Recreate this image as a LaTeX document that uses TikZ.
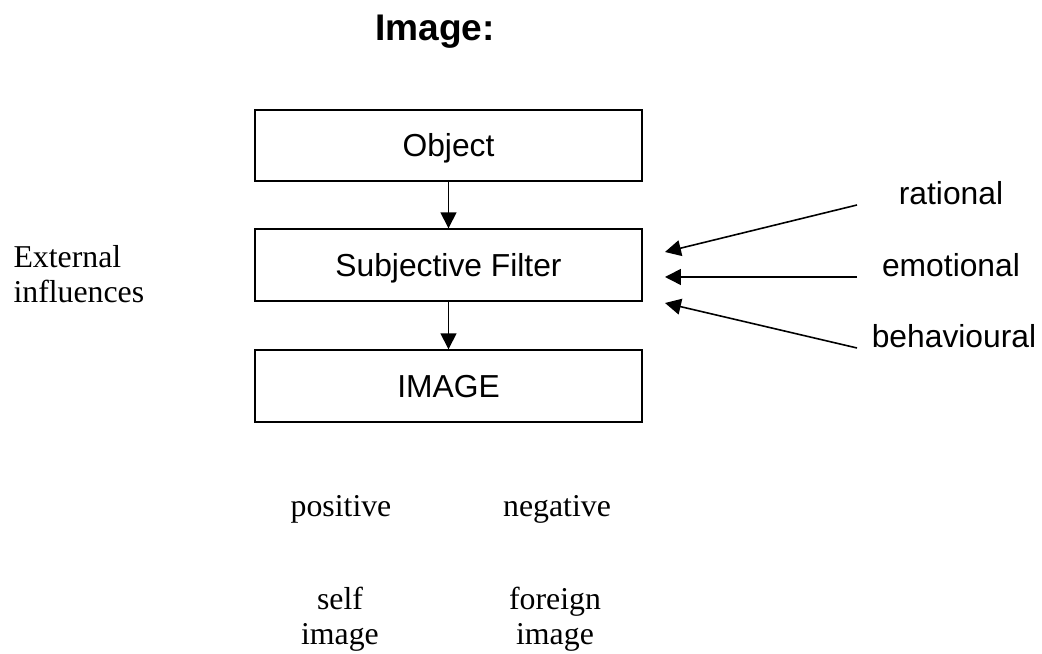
\documentclass[tikz,border=0pt]{standalone}
\usepackage{fontspec}
\setmainfont{Liberation Serif}
\newfontfamily\arialfont{Liberation Sans}
\usetikzlibrary{arrows.meta}
\begin{document}
\begin{tikzpicture}[x=0.3774pt,y=-0.3774pt,
  boxstyle/.style={draw,line width=0.7pt,minimum width=146pt,minimum height=27pt,inner sep=0pt},
  sanslabel/.style={font=\arialfont\fontsize{12}{14}\selectfont,anchor=base,inner sep=0pt},
  seriflabel/.style={font=\fontsize{12}{14}\selectfont,anchor=base,inner sep=0pt},
  arr/.style={line width=0.6pt,-{Triangle[length=6pt,width=6pt]}}]
\useasboundingbox (0,0) rectangle (1042,654);
% title
\node[font=\arialfont\bfseries\fontsize{14}{17}\selectfont,anchor=base,inner sep=0pt] (title) at (435,41) {Image:};
% boxes
\node[boxstyle] (obj) at (448.5,145.5) {};
\node[boxstyle] (filt) at (448.5,265) {};
\node[boxstyle] (img) at (448.5,386) {};
\node[sanslabel] (objt) at (448.5,157) {Object};
\node[sanslabel] (filtt) at (448.5,277) {Subjective Filter};
\node[sanslabel] (imgt) at (448.5,398) {IMAGE};
\draw[arr] (obj.south) -- (filt.north);
\draw[arr] (filt.south) -- (img.north);
% left text
\node[seriflabel,anchor=base west] (ext1) at (13,268) {External};
\node[seriflabel,anchor=base west] (ext2) at (13,303) {influences};
% right labels
\node[sanslabel] (rat) at (951,205) {rational};
\node[sanslabel] (emo) at (951,277) {emotional};
\node[sanslabel] (beh) at (954,348) {behavioural};
\coordinate (rs) at (857,205);
\coordinate (re) at (665,252);
\coordinate (es) at (857,277);
\coordinate (ee) at (665,277);
\coordinate (bs) at (857,348);
\coordinate (be) at (665,303);
\draw[arr] (rs) -- (re);
\draw[arr] (es) -- (ee);
\draw[arr] (bs) -- (be);
% bottom texts
\node[seriflabel] (pos) at (341,517) {positive};
\node[seriflabel] (neg) at (557,517) {negative};
\node[seriflabel] (self1) at (340,610) {self};
\node[seriflabel] (self2) at (340,645) {image};
\node[seriflabel] (for1) at (555,610) {foreign};
\node[seriflabel] (for2) at (555,645) {image};
\end{tikzpicture}
\end{document}
